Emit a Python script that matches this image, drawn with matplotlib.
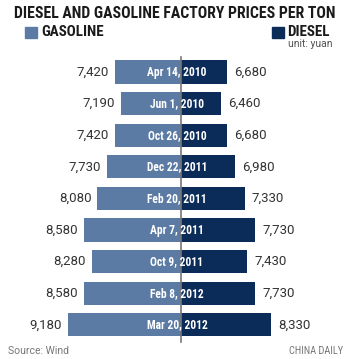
import matplotlib.pyplot as plt

dates = ["Apr 14, 2010", "Jun 1, 2010", "Oct 26, 2010", "Dec 22, 2011", "Feb 20, 2011",
         "Apr 7, 2011", "Oct 9, 2011", "Feb 8, 2012", "Mar 20, 2012"]
gasoline = [7420, 7190, 7420, 7730, 8080, 8580, 8280, 8580, 9180]
diesel = [6680, 6460, 6680, 6980, 7330, 7730, 7430, 7730, 8330]

base = 4950  # bars start from this value at the centre line
gas_color = "#5b7ba4"
diesel_color = "#0b2b59"
text_color = "#333333"

narrow = ["Roboto Condensed", "Archivo Narrow", "Liberation Sans Narrow", "DejaVu Sans"]
plain = ["Roboto", "DejaVu Sans"]

W, H = 351, 359
fig = plt.figure(figsize=(W / 100, H / 100), dpi=100)
ax = fig.add_axes([0, 0, 1, 1])

px = 0.0267  # pixels per yuan
row = 31.6
ax.set_xlim(-181 / px, (W - 181) / px)
ax.set_ylim((H - 72) / row, -72 / row)
ax.axis("off")

ys = range(len(dates))
g_len = [v - base for v in gasoline]
d_len = [v - base for v in diesel]
ax.barh(ys, [-g for g in g_len], height=0.73, color=gas_color)
ax.barh(ys, d_len, height=0.73, color=diesel_color)
ax.plot([0, 0], [-0.48, 8.55], color="#777777", lw=1.2)

for y, d, g, dl in zip(ys, dates, g_len, d_len):
    ax.text(-g - 6 / px, y, f"{gasoline[y]:,}", ha="right", va="center",
            fontsize=9.5, color=text_color, family=plain)
    ax.text(dl + 7 / px, y, f"{diesel[y]:,}", ha="left", va="center",
            fontsize=9.5, color=text_color, family=plain)
    ax.text(-4 / px, y, d, ha="center", va="center", fontsize=8.3,
            color="white", fontweight="bold", family=narrow)

fig.text(175 / W, 1 - 13 / H, "DIESEL AND GASOLINE FACTORY PRICES PER TON",
         ha="center", va="center", fontsize=11.3, fontweight="heavy",
         color="#1a1a1a", family=narrow)
fig.patches.append(plt.Rectangle((25 / W, 1 - 38 / H), 12 / W, 11 / H,
                                 transform=fig.transFigure, color=gas_color))
fig.text(41 / W, 1 - 32 / H, "GASOLINE", ha="left", va="center", fontsize=10.8,
         fontweight="bold", color="#1a1a1a", family=narrow)
fig.patches.append(plt.Rectangle((272 / W, 1 - 38 / H), 12 / W, 11 / H,
                                 transform=fig.transFigure, color=diesel_color))
fig.text(287 / W, 1 - 32 / H, "DIESEL", ha="left", va="center", fontsize=10.8,
         fontweight="bold", color="#1a1a1a", family=narrow)
fig.text(288 / W, 1 - 44 / H, "unit: yuan", ha="left", va="center", fontsize=7.5,
         color="#555555", family=plain)
fig.text(8 / W, 1 - 351 / H, "Source: Wind", ha="left", va="center", fontsize=7.5,
         color="#777777", family=plain)
fig.text(343 / W, 1 - 351 / H, "CHINA DAILY", ha="right", va="center", fontsize=7.5,
         color="#777777", family=narrow)

fig.savefig("out.png", dpi=100)
